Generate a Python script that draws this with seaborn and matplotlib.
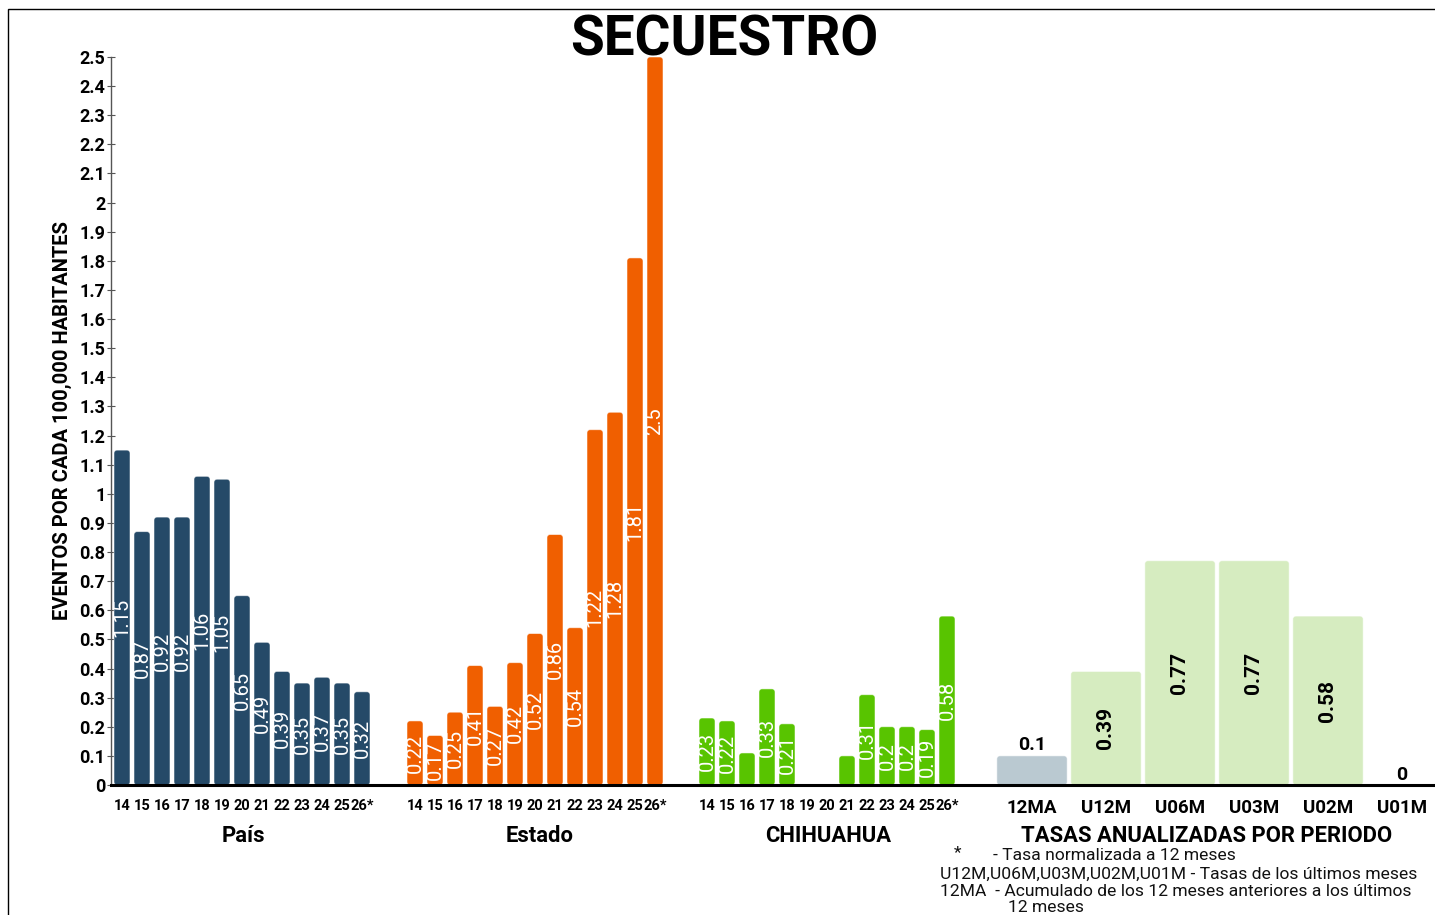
import numpy as np
import pandas as pd
import matplotlib
matplotlib.use("Agg")
import matplotlib.pyplot as plt
from matplotlib.patches import FancyBboxPatch, Rectangle
import seaborn as sns

# ---------------- data ----------------
years = ["14", "15", "16", "17", "18", "19", "20", "21", "22", "23", "24", "25", "26*"]
pais = [1.15, 0.87, 0.92, 0.92, 1.06, 1.05, 0.65, 0.49, 0.39, 0.35, 0.37, 0.35, 0.32]
estado = [0.22, 0.17, 0.25, 0.41, 0.27, 0.42, 0.52, 0.86, 0.54, 1.22, 1.28, 1.81, 2.5]
chihuahua = [0.23, 0.22, 0.11, 0.33, 0.21, 0, 0, 0.10, 0.31, 0.2, 0.2, 0.19, 0.58]
periodos = ["12MA", "U12M", "U06M", "U03M", "U02M", "U01M"]
tasas = [0.1, 0.39, 0.77, 0.77, 0.58, 0]
group_names = ["País", "Estado", "CHIHUAHUA", "TASAS ANUALIZADAS POR PERIODO"]
title = "SECUESTRO"
ylabel = "EVENTOS POR CADA 100,000 HABITANTES"
notes = [
    "*",
    "- Tasa normalizada a 12 meses",
    "U12M,U06M,U03M,U02M,U01M - Tasas de los últimos meses",
    "12MA  - Acumulado de los 12 meses anteriores a los últimos",
    "12 meses",
]

# ---------------- style ----------------
C_PAIS = "#254a68"
C_EST = "#f05f00"
C_CHI = "#58c400"
C_12MA = "#bac9d1"
C_U = "#d6ecc0"

sns.set_theme(style="white")
plt.rcParams["font.family"] = ["Roboto", "DejaVu Sans"]

W, H = 1435, 915
fig = plt.figure(figsize=(W / 100, H / 100), dpi=100)
fig.patch.set_facecolor("white")

ax_left, ax_right, ax_bottom, ax_top = 111, 1435, 785, 57
ax = fig.add_axes([ax_left / W, 1 - ax_bottom / H, (ax_right - ax_left) / W, (ax_bottom - ax_top) / H])

# group slot positions (one unit per year slot)
pos_pais = np.arange(13) + 0.0
pos_est = np.arange(13) + 14.65
pos_chi = np.arange(13) + 29.25
pos_tasa = np.arange(6) * 3.7 + 45.5

def draw_group(pos, vals, color, width):
    df = pd.DataFrame({"x": pos, "v": vals})
    sns.barplot(data=df, x="x", y="v", native_scale=True, color=color,
                width=width, ax=ax, saturation=1, edgecolor="white", linewidth=0.4)
    return ax.containers[-1]

c1 = draw_group(pos_pais, pais, C_PAIS, 0.8)
c2 = draw_group(pos_est, estado, C_EST, 0.8)
c3 = draw_group(pos_chi, chihuahua, C_CHI, 0.8)

df_t = pd.DataFrame({"x": pos_tasa, "v": tasas, "p": periodos})
sns.barplot(data=df_t, x="x", y="v", hue="p", native_scale=True, dodge=False,
            palette=[C_12MA] + [C_U] * 5, width=0.95, ax=ax, saturation=1,
            legend=False, edgecolor="white", linewidth=0.4)
tasa_containers = ax.containers[3:]

ax.set_xlim(-0.55, 65.65)
ax.set_ylim(0, 2.5)

# value labels
def fmt(v):
    return f"{v:g}"

for cont, vals in [(c1, pais), (c2, estado), (c3, chihuahua)]:
    labels = [fmt(v) if v >= 0.15 else "" for v in vals]
    ax.bar_label(cont, labels=labels, label_type="center", rotation=90,
                 color="white", fontsize=14.5)

for cont in tasa_containers:
    vals = [p.get_height() for p in cont.patches]
    big = [fmt(v) if v >= 0.2 else "" for v in vals]
    small = [fmt(v) if v < 0.2 and np.isfinite(v) else "" for v in vals]
    ax.bar_label(cont, labels=big, label_type="center", rotation=90,
                 color="black", fontsize=15, fontweight="bold")
    ax.bar_label(cont, labels=small, label_type="edge", padding=1,
                 color="black", fontsize=14, fontweight="bold")

# rounded bar tops: replace rectangles by rounded boxes
xpx = (ax_right - ax_left) / (65.65 + 0.55)
ypx = (ax_bottom - ax_top) / 2.5
rs = 3.0 / xpx
aspect = (3.0 / ypx) / rs
for p in list(ax.patches):
    if isinstance(p, Rectangle) and p.get_height() > 0:
        x0, y0 = p.get_xy()
        w, h = p.get_width(), p.get_height()
        fb = FancyBboxPatch((x0, y0), w, h, boxstyle=f"round,pad=0,rounding_size={rs}",
                            mutation_aspect=aspect, facecolor=p.get_facecolor(),
                            edgecolor=(1, 1, 1, 0.6), linewidth=0.6, zorder=p.get_zorder())
        ax.add_patch(fb)
        p.set_visible(False)
    elif isinstance(p, Rectangle):
        p.set_visible(False)

# axes styling
for s in ["top", "right"]:
    ax.spines[s].set_visible(False)
ax.spines["left"].set_color("#555555")
ax.spines["left"].set_linewidth(1.0)
ax.spines["bottom"].set_color("black")
ax.spines["bottom"].set_linewidth(2.2)

yt = np.round(np.arange(0, 2.51, 0.1), 1)
ax.set_yticks(yt)
ax.set_yticklabels([fmt(v) for v in yt], fontsize=13, fontweight="bold", color="black")
ax.tick_params(axis="y", direction="inout", length=6, width=0.8, color="#555555", pad=1, left=True)

xt = list(pos_pais) + list(pos_est) + list(pos_chi) + list(pos_tasa)
xl = years * 3 + periodos
ax.set_xticks(xt)
ax.set_xticklabels(xl)
ax.tick_params(axis="x", length=0, pad=10, bottom=True)
for i, t in enumerate(ax.get_xticklabels()):
    t.set_fontweight("bold")
    t.set_color("black")
    if i < 39:
        t.set_fontsize(10.5)
    else:
        t.set_fontsize(13.5)

ax.set_xlabel("")
ax.set_ylabel(ylabel, fontsize=14.5, fontweight="bold", color="black")
ax.yaxis.set_label_coords((72 - ax_left) / (ax_right - ax_left), 0.5)

def ftxt(x, y, s, **kw):
    fig.text(x / W, 1 - y / H, s, **kw)

# title
ftxt(724, 40, title, fontsize=39.5, fontweight="bold", ha="center", va="center", color="black")

# group labels
for name, xc in zip(group_names, [243, 540, 828, 1207]):
    ftxt(xc, 836, name, fontsize=15.8, fontweight="bold", ha="center", va="center", color="black")

# footnotes
nkw = dict(fontsize=12.6, color="#111111", va="center", ha="left")
ftxt(954, 853, notes[0], **nkw)
ftxt(993, 856, notes[1], **nkw)
ftxt(940, 874, notes[2], **nkw)
ftxt(940, 892, notes[3], **nkw)
ftxt(1008, 908, notes[4], **nkw)

# outer frame
fig.patches.append(Rectangle((8 / W, -0.05), 1.2, 1 - 9 / H + 0.05, transform=fig.transFigure,
                             fill=False, edgecolor="black", linewidth=1.0))

fig.savefig("out.png", dpi=100, facecolor="white")
